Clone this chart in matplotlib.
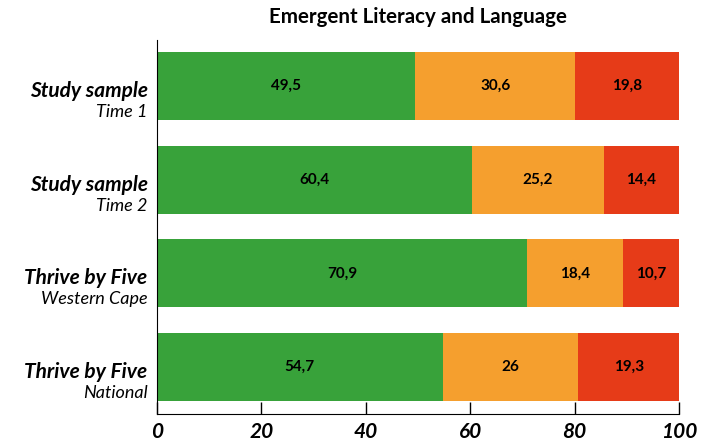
import matplotlib
matplotlib.use("Agg")
import matplotlib.pyplot as plt

plt.rcParams['font.family'] = ['Lato', 'DejaVu Sans']

## data
groups = ["Study sample", "Study sample", "Thrive by Five", "Thrive by Five"]
subgroups = ["Time 1", "Time 2", "Western Cape", "National"]
green_vals = [49.5, 60.4, 70.9, 54.7]
orange_vals = [30.6, 25.2, 18.4, 26]
red_vals = [19.8, 14.4, 10.7, 19.3]
value_labels = [["49,5", "30,6", "19,8"],
                ["60,4", "25,2", "14,4"],
                ["70,9", "18,4", "10,7"],
                ["54,7", "26", "19,3"]]
colors = ["#38a23a", "#f59f2e", "#e63b18"]

fig = plt.figure(figsize=(7.15, 4.43), dpi=100)
ax = fig.add_axes([0.2196, 0.0655, 0.7301, 0.8442])

ypos = list(range(len(groups)))
left = [0] * len(groups)
for vals, col in zip([green_vals, orange_vals, red_vals], colors):
    ax.barh(ypos, vals, left=left, height=0.726, color=col)
    left = [l + v for l, v in zip(left, vals)]

## numbers in the middle of each segment
for i in ypos:
    start = 0
    for j, vals in enumerate([green_vals, orange_vals, red_vals]):
        ax.text(start + vals[i] / 2, i, value_labels[i][j], ha="center", va="center",
                fontsize=11, fontweight="bold", color="black")
        start += vals[i]

## two line category labels
for i in ypos:
    ax.text(-0.018, i + 0.117, groups[i], transform=ax.get_yaxis_transform(),
            ha="right", va="baseline", fontsize=15, fontweight="bold", style="italic")
    ax.text(-0.018, i + 0.33, subgroups[i], transform=ax.get_yaxis_transform(),
            ha="right", va="baseline", fontsize=13, style="italic")

ax.set_xlim(0, 100)
ax.set_ylim(3.5, -0.49)
ax.set_yticks([])
ax.set_xticks([0, 20, 40, 60, 80, 100])
ax.tick_params(axis="x", direction="in", length=9, width=1, pad=6)
for lbl in ax.get_xticklabels():
    lbl.set_fontsize(15)
    lbl.set_fontweight("bold")
    lbl.set_style("italic")

ax.spines["top"].set_visible(False)
ax.spines["right"].set_visible(False)

ax.set_title("Emergent Literacy and Language", fontsize=14.8, fontweight="bold", pad=12)

fig.savefig("out.png", dpi=100)
